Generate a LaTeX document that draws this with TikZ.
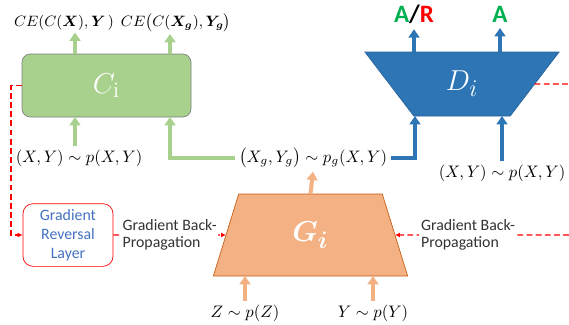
\documentclass[tikz,border=0pt]{standalone}
\usepackage{amsmath,bm}
\usepackage{fontspec}
\setsansfont{Carlito}
\usetikzlibrary{arrows.meta, shapes.geometric}

\definecolor{cgreen}{HTML}{A9D18E}
\definecolor{cborder}{HTML}{7F7F7F}
\definecolor{dblue}{HTML}{2E75B6}
\definecolor{gorange}{HTML}{F4B183}
\definecolor{gborder}{HTML}{C55A11}
\definecolor{grlblue}{HTML}{4472C4}
\definecolor{okgreen}{HTML}{00B050}

\newlength{\px}
\setlength{\px}{0.6pt}

\begin{document}
\begin{tikzpicture}[
    x=0.6pt, y=-0.6pt,
    classifier/.style={
        rectangle,
        draw=cborder,
        fill=cgreen,
        rounded corners=5pt,
        minimum width=169\px,
        minimum height=63\px,
        outer sep=0pt,
        text=white,
        font=\fontsize{19}{22}\selectfont
    },
    discrim/.style={
        trapezium,
        shape border rotate=180,
        trapezium angle=59,
        trapezium stretches=true,
        draw=dblue!85!black,
        fill=dblue,
        minimum width=195\px,
        minimum height=64\px,
        outer sep=0pt,
        text=white,
        font=\fontsize{19}{22}\selectfont
    },
    generator/.style={
        trapezium,
        trapezium angle=77.5,
        trapezium stretches=true,
        draw=gborder,
        fill=gorange,
        minimum width=195\px,
        minimum height=82\px,
        outer sep=0pt,
        text=white,
        font=\fontsize{19}{22}\selectfont
    },
    reversal/.style={
        rectangle,
        draw=red,
        fill=white,
        rounded corners=6pt,
        align=center,
        minimum width=90\px,
        minimum height=60\px,
        text=grlblue,
        font=\sffamily\fontsize{9.5}{11.4}\selectfont
    },
    dist/.style={inner sep=2pt},
    loss/.style={inner sep=1pt, font=\fontsize{9.2}{11}\selectfont},
    note/.style={
        align=left,
        fill=white,
        inner sep=1pt,
        text=black!80,
        font=\sffamily\fontsize{9.5}{10.2}\selectfont
    },
    verdict/.style={font=\sffamily\bfseries\fontsize{15}{18}\selectfont},
    carrow/.style={-{Triangle[width=6.5pt, length=5pt]}, line width=2.4pt, draw=cgreen},
    darrow/.style={-{Triangle[width=6.5pt, length=5pt]}, line width=2.4pt, draw=dblue},
    garrow/.style={-{Triangle[width=6.5pt, length=5pt]}, line width=2.4pt, draw=gorange},
    gradline/.style={red, line width=0.8pt, dash pattern=on 3.5pt off 2pt}
]
\useasboundingbox (0,0) rectangle (569,324);

% networks
\node[classifier] (C_net) at (106.5,85.5) {$C_\mathrm{i}$};
\node[discrim] (D_net) at (462,84) {$D_i$};
\node[generator] (G_net) at (310.5,235) {$\bm{G_i}$};
\node[reversal] (grl) at (68,235) {Gradient\\Reversal\\Layer};

% outputs
\node[loss] (ce_real) at (64,23) {$CE(C(\bm{X}),\bm{Y}\,)$};
\node[loss] (ce_fake) at (176,23) {$CE\big(C(\bm{X_g}),\bm{Y_g}\big)$};
\node[verdict] (ar) at (414,14) {\textcolor{okgreen}{A}/\textcolor{red}{R}};
\node[verdict] (acc) at (500,14) {\textcolor{okgreen}{A}};

% inputs
\node[dist] (real_c) at (79,158) {$(X,Y)\sim p(X,Y)$};
\node[dist] (fake) at (313,158) {$\big(X_g,Y_g\big)\sim p_g(X,Y)$};
\node[dist] (real_d) at (502,173) {$(X,Y)\sim p(X,Y)$};
\node[dist] (z_prior) at (245,313) {$Z\sim p(Z)$};
\node[dist] (y_prior) at (373,313) {$Y\sim p(Y)$};

\coordinate (d_out) at (569,84);
\coordinate (g_in) at (569,235);

\draw[carrow] ([xshift=53\px]C_net.north west) -- ([xshift=53\px]C_net.north west |- ce_real.south);
\draw[carrow] ([xshift=-21\px]C_net.north east) -- ([xshift=-21\px]C_net.north east |- ce_fake.south);
\draw[carrow] ([xshift=53\px]C_net.south west |- real_c.north) -- ([xshift=53\px]C_net.south west);
\draw[carrow] (fake.west) -| ([xshift=-21\px]C_net.south east);

\draw[darrow] (D_net.north -| ar) -- (ar.south);
\draw[darrow] (D_net.north -| acc) -- (acc.south);
\draw[darrow] (fake.east) -| ([xshift=-47\px]D_net.south);
\draw[darrow] (real_d.north) -- (real_d.north |- D_net.south);

\draw[garrow] (G_net.north) -- (fake.south);
\draw[garrow] (z_prior.north) -- (z_prior.north |- G_net.south);
\draw[garrow] (y_prior.north) -- (y_prior.north |- G_net.south);

% gradient reversal path
\draw[gradline, -{Latex[length=3pt, width=3pt]}] (C_net.west) -- ++(-11,0) |- (grl.west);
\draw[gradline, -{Latex[length=3pt, width=3pt]}] (grl.east) -- node[note] {Gradient Back-\\Propagation} (G_net.west);
\draw[gradline] (D_net.east) -- (d_out);
\draw[gradline, -{Latex[length=3pt, width=3pt]}] (g_in) -- node[note, pos=0.58] {Gradient Back-\\Propagation} (G_net.east);

\end{tikzpicture}
\end{document}
